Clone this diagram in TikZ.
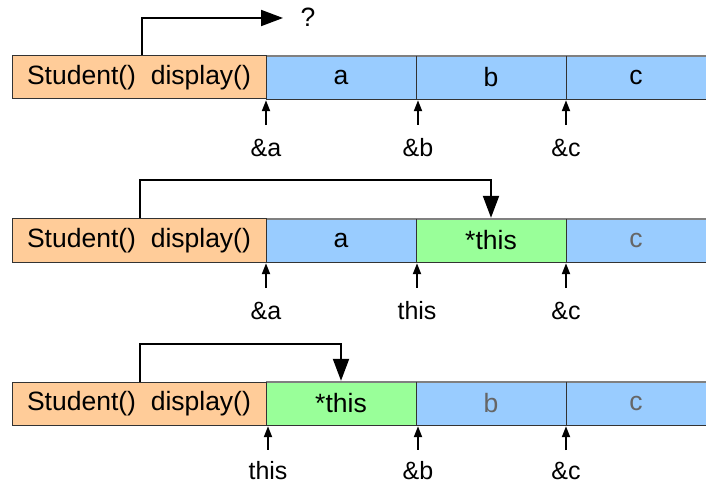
\documentclass[tikz,border=0pt]{standalone}
\usepackage{fontspec}
\setmainfont{Liberation Sans}
\usetikzlibrary{arrows.meta,calc}
\definecolor{peach}{HTML}{FFCC99}
\definecolor{skyblue}{HTML}{99CCFF}
\definecolor{mint}{HTML}{99FF99}
\definecolor{fadedtext}{HTML}{666666}
\definecolor{edge}{HTML}{333333}
\definecolor{rimgray}{HTML}{808080}

\begin{document}
\begin{tikzpicture}[x=1pt,y=-1pt,
  every node/.style={font=\fontsize{26.5}{30}\selectfont, inner sep=0pt},
  funcbox/.style={draw=edge, line width=1pt, fill=peach, minimum width=254pt, minimum height=43pt},
  cell/.style={minimum width=150pt, minimum height=43pt},
  bluecell/.style={cell, fill=skyblue},
  greencell/.style={cell, fill=mint},
  lastcell/.style={minimum width=140pt, minimum height=43pt, fill=skyblue},
  faded/.style={text=fadedtext},
  rimtop/.style={draw=rimgray, line width=2pt},
  rimbottom/.style={draw=edge, line width=1.2pt},
  divider/.style={draw=edge, line width=1pt},
  callarrow/.style={line width=2pt, -{Triangle[length=22pt,width=16pt]}},
  ptr/.style={line width=2pt, shorten >=1pt, -{Triangle[length=11pt,width=8pt]}},
  lbl/.style={font=\fontsize{25}{30}\selectfont},
]
\useasboundingbox (0,0) rectangle (706,486);

% ---- first frame: display() called, target unknown ----
\node[bluecell] (r1a) at (341,77.5) {a};
\node[bluecell] (r1b) at (491,77.5) {b};
\node[lastcell] (r1c) at (636,77.5) {c};
\draw[rimtop] (r1a.north west) -- (r1c.north east);
\draw[rimbottom] (r1a.south west) -- (r1c.south east);
\draw[divider] (r1a.north east) -- (r1a.south east);
\draw[divider] (r1b.north east) -- (r1b.south east);
\node[funcbox] (o1) at (139,77.5) {Student()\ \ display()};
\coordinate (q1) at (283,18);
\node (unk) at (308,17) {?};
\draw[callarrow] ([xshift=130pt]o1.north west) |- (q1);
\node[lbl] (l1a) at (266,148) {\&a};
\node[lbl] (l1b) at (418,148) {\&b};
\node[lbl] (l1c) at (566,148) {\&c};
\draw[ptr] ([yshift=14pt]l1a.north) -- (l1a.north |- r1a.south);
\draw[ptr] ([yshift=14pt]l1b.north) -- (l1b.north |- r1b.south);
\draw[ptr] ([yshift=14pt]l1c.north) -- (l1c.north |- r1c.south);

% ---- second frame: this points at b ----
\node[bluecell] (r2a) at (341,240.5) {a};
\node[greencell] (r2b) at (491,240.5) {*this};
\node[lastcell, faded] (r2c) at (636,240.5) {c};
\draw[rimtop] (r2a.north west) -- (r2c.north east);
\draw[rimbottom] (r2a.south west) -- (r2c.south east);
\draw[divider] (r2a.north east) -- (r2a.south east);
\draw[divider] (r2b.north east) -- (r2b.south east);
\node[funcbox] (o2) at (139,240.5) {Student()\ \ display()};
\draw[callarrow, shorten >=1pt] ([xshift=128pt]o2.north west) -- ++(0,-38) -| (r2b.north);
\node[lbl] (l2a) at (266,311) {\&a};
\node[lbl] (l2b) at (417,311) {this};
\node[lbl] (l2c) at (566,311) {\&c};
\draw[ptr] ([yshift=14pt]l2a.north) -- (l2a.north |- r2a.south);
\draw[ptr] ([yshift=14pt]l2b.north) -- (l2b.north |- r2b.south);
\draw[ptr] ([yshift=14pt]l2c.north) -- (l2c.north |- r2c.south);

% ---- third frame: this points at a ----
\node[greencell] (r3a) at (341,403.5) {*this};
\node[bluecell, faded] (r3b) at (491,403.5) {b};
\node[lastcell, faded] (r3c) at (636,403.5) {c};
\draw[rimtop] (r3a.north west) -- (r3c.north east);
\draw[rimbottom] (r3a.south west) -- (r3c.south east);
\draw[divider] (r3a.north east) -- (r3a.south east);
\draw[divider] (r3b.north east) -- (r3b.south east);
\node[funcbox] (o3) at (139,403.5) {Student()\ \ display()};
\draw[callarrow, shorten >=1pt] ([xshift=128pt]o3.north west) -- ++(0,-38) -| (r3a.north);
\node[lbl] (l3a) at (268,471) {this};
\node[lbl] (l3b) at (418,471) {\&b};
\node[lbl] (l3c) at (566,471) {\&c};
\draw[ptr] ([yshift=12pt]l3a.north) -- (l3a.north |- r3a.south);
\draw[ptr] ([yshift=12pt]l3b.north) -- (l3b.north |- r3b.south);
\draw[ptr] ([yshift=12pt]l3c.north) -- (l3c.north |- r3c.south);
\end{tikzpicture}
\end{document}
